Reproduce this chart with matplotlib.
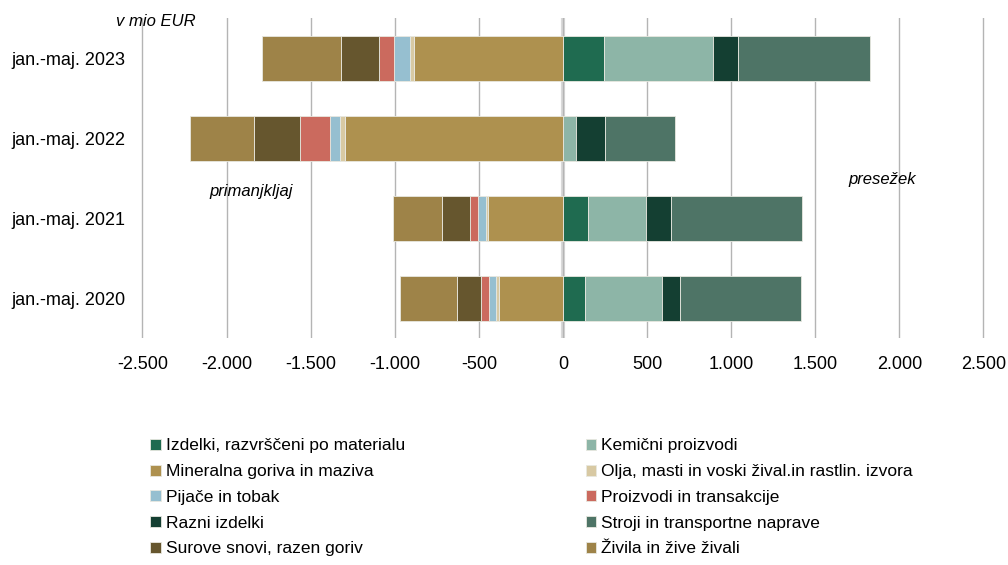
import numpy as np
import matplotlib.pyplot as plt

plt.rcParams['font.family'] = ['Liberation Sans', 'DejaVu Sans']

periods = ["jan.-maj. 2023", "jan.-maj. 2022", "jan.-maj. 2021", "jan.-maj. 2020"]

categories = [
    "Izdelki, razvrščeni po materialu",
    "Kemični proizvodi",
    "Mineralna goriva in maziva",
    "Olja, masti in voski žival.in rastlin. izvora",
    "Pijače in tobak",
    "Proizvodi in transakcije",
    "Razni izdelki",
    "Stroji in transportne naprave",
    "Surove snovi, razen goriv",
    "Živila in žive živali",
]

# mio EUR, order of periods as above
izdelki = [247, 0, 152, 134]
kemicni = [645, 80, 343, 454]
mineralna = [-886, -1296, -448, -378]
olja = [-24, -28, -7, -18]
pijace = [-95, -62, -50, -46]
proizvodi = [-87, -176, -50, -43]
razni = [147, 173, 149, 111]
stroji = [787, 415, 777, 715]
surove = [-228, -276, -164, -145]
zivila = [-469, -379, -294, -341]

series = [izdelki, kemicni, mineralna, olja, pijace, proizvodi, razni, stroji, surove, zivila]
colors = ["#1f6b50", "#8db5a7", "#ae914f", "#d8c9a3", "#96bfd0",
          "#cb6a5e", "#143f32", "#4e7466", "#66562e", "#9e8348"]

fig = plt.figure(figsize=(10.08, 5.65), dpi=100)
ax = fig.add_axes([0.138, 0.401, 0.8409, 0.567])

y = np.arange(len(periods))
pos = np.zeros(len(periods))
neg = np.zeros(len(periods))
handles = []
for name, vals, c in zip(categories, series, colors):
    vals = np.array(vals, dtype=float)
    left = np.where(vals >= 0, pos, neg)
    h = ax.barh(y, vals, left=left, height=0.56, color=c, label=name,
                edgecolor="#e8e8e0", linewidth=0.6, zorder=3)
    handles.append(h)
    pos += np.clip(vals, 0, None)
    neg += np.clip(vals, None, 0)

ax.set_xlim(-2520, 2520)
ax.set_ylim(3.5, -0.5)
ax.set_xticks(np.arange(-2500, 2501, 500))
ax.set_xticklabels([f"{v:,}".replace(",", ".") for v in range(-2500, 2501, 500)], fontsize=13)
ax.set_yticks(y)
ax.set_yticklabels(periods, fontsize=13)
ax.tick_params(axis="y", length=0, pad=10)
ax.tick_params(axis="x", length=0, pad=13)
for s in ax.spines.values():
    s.set_visible(False)
ax.grid(axis="x", color="#b4b4b4", linewidth=1, zorder=0)
ax.axvline(0, color="#d9d9d9", linewidth=3, zorder=1)

ax.text(-2660, -0.46, "v mio EUR", fontsize=12, style="italic", va="center")
ax.text(-2100, 1.67, "primanjkljaj", fontsize=12, style="italic", va="center")
ax.text(1700, 1.51, "presežek", fontsize=12, style="italic", va="center")

# legend is row-major in the reference; matplotlib fills columns first
order = list(range(0, 10, 2)) + list(range(1, 10, 2))
fig.legend([handles[i] for i in order], [categories[i] for i in order],
           ncol=2, loc="upper left", bbox_to_anchor=(0.149, 0.224),
           frameon=False, fontsize=12.5, handlelength=0.6, handleheight=0.6,
           handletextpad=0.3, columnspacing=10.4, labelspacing=0.62,
           borderaxespad=0, borderpad=0)

fig.savefig("out.png", dpi=100)
